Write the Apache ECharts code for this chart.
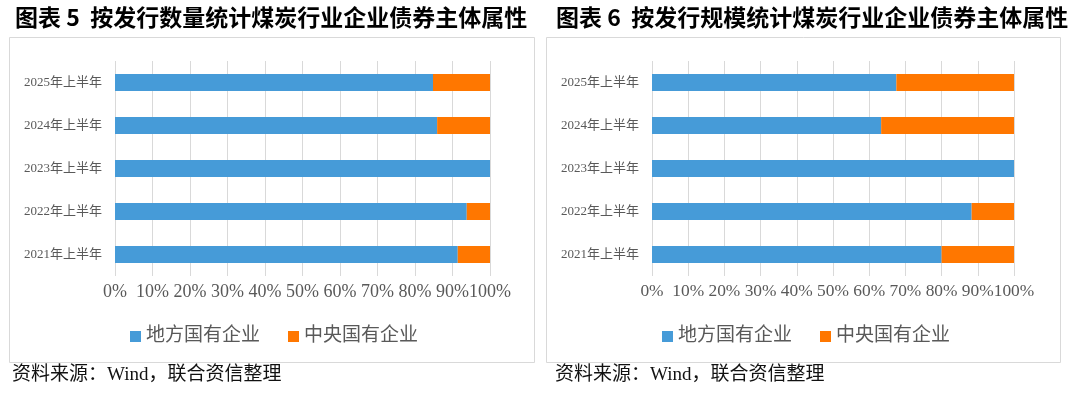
<!DOCTYPE html>
<html>
<head>
<meta charset="utf-8">
<script src="https://cdn.jsdelivr.net/npm/echarts@6/dist/echarts.min.js"></script>
<style>
html,body{margin:0;padding:0;background:#fff;}
#c{width:1080px;height:395px;}
</style>
</head>
<body>
<div id="c"></div>
<script>
// ---- data ----
const categories = ['2021年上半年', '2022年上半年', '2023年上半年', '2024年上半年', '2025年上半年'];
const seriesNames = ['地方国有企业', '中央国有企业'];
// 图表5：按发行数量（%）
const countLocal = [91.4, 93.8, 100, 85.9, 84.8];
const countCentral = [8.6, 6.2, 0, 14.1, 15.2];
// 图表6：按发行规模（%）
const scaleLocal = [80.0, 88.3, 100, 63.3, 67.5];
const scaleCentral = [20.0, 11.7, 0, 36.7, 32.5];
const xTicks = {min: 0, max: 100, interval: 10};
const titles = ['图表 5  按发行数量统计煤炭行业企业债券主体属性', '图表 6  按发行规模统计煤炭行业企业债券主体属性'];
const sourceText = '资料来源：Wind，联合资信整理';

const BLUE = '#469BD8';
const ORANGE = '#FF7700';
const GREY = '#595959';
const SERIF = '"Liberation Serif", "Noto Sans CJK SC", serif';

const chart = echarts.init(document.getElementById('c'), null, {renderer: 'canvas'});

function xAxis(gi, fs) {
  return {
    type: 'value', gridIndex: gi, min: xTicks.min, max: xTicks.max, interval: xTicks.interval,
    axisLine: {show: false}, axisTick: {show: false},
    splitLine: {show: true, lineStyle: {color: '#d9d9d9', width: 1}},
    axisLabel: {formatter: '{value}%', color: GREY, fontFamily: SERIF, fontSize: fs, margin: 7,
      hideOverlap: false, showMinLabel: true, showMaxLabel: true}
  };
}
function yAxis(gi) {
  return {
    type: 'category', gridIndex: gi, data: categories,
    axisLine: {show: false}, axisTick: {show: false},
    axisLabel: {color: GREY, fontFamily: SERIF, fontSize: 13, margin: 13}
  };
}
function bar(name, data, color, gi) {
  return {
    name: name, type: 'bar', stack: 's' + gi, xAxisIndex: gi, yAxisIndex: gi,
    data: data, barWidth: 17, itemStyle: {color: color}, silent: true
  };
}
function legend(left) {
  return {
    left: left, top: 322, itemWidth: 11, itemHeight: 11, itemGap: 28, icon: 'rect',
    textStyle: {color: GREY, fontSize: 19, fontFamily: SERIF},
    data: seriesNames
  };
}

chart.setOption({
  animation: false,
  backgroundColor: '#fff',
  grid: [
    {left: 115, right: 590, top: 61, height: 215},
    {left: 652, right: 66, top: 61, height: 215}
  ],
  xAxis: [xAxis(0, 18), xAxis(1, 17.4)],
  yAxis: [yAxis(0), yAxis(1)],
  legend: [legend(125), legend(657)],
  series: [
    bar(seriesNames[0], countLocal, BLUE, 0),
    bar(seriesNames[1], countCentral, ORANGE, 0),
    bar(seriesNames[0], scaleLocal, BLUE, 1),
    bar(seriesNames[1], scaleCentral, ORANGE, 1)
  ],
  graphic: [
    {type: 'rect', z: -1, shape: {x: 9.5, y: 37.5, width: 525, height: 325}, style: {fill: 'none', stroke: '#d9d9d9', lineWidth: 1}},
    {type: 'rect', z: -1, shape: {x: 546.5, y: 37.5, width: 514, height: 325}, style: {fill: 'none', stroke: '#d9d9d9', lineWidth: 1}},
    {type: 'text', left: 15, top: 6, style: {text: titles[0], font: 'bold 23px "Noto Sans CJK SC"', fill: '#000'}},
    {type: 'text', left: 556, top: 6, style: {text: titles[1], font: 'bold 23px "Noto Sans CJK SC"', fill: '#000'}},
    {type: 'text', left: 12, top: 366, style: {text: sourceText, font: '19px "Liberation Serif", "Noto Sans CJK SC"', fill: '#111'}},
    {type: 'text', left: 555, top: 366, style: {text: sourceText, font: '19px "Liberation Serif", "Noto Sans CJK SC"', fill: '#111'}}
  ]
});
</script>
</body>
</html>
